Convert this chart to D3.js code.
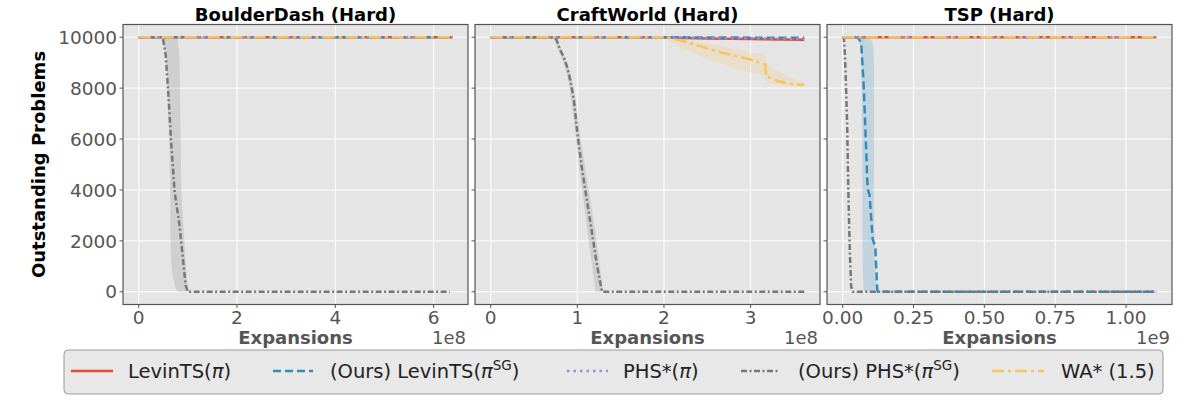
<!DOCTYPE html>
<html><head><meta charset="utf-8">
<script src="https://cdn.jsdelivr.net/npm/d3@7"></script>
<style>
html,body{margin:0;padding:0;background:#fff;}
text{font-family:"DejaVu Sans",sans-serif;}
</style></head>
<body><svg id="chart" width="1200" height="405"></svg>
<script>
// ---------------- DATA ----------------
const panelTitles = ["BoulderDash (Hard)", "CraftWorld (Hard)", "TSP (Hard)"];
const seriesNames = ["LevinTS(π)", "(Ours) LevinTS(πSG)", "PHS*(π)", "(Ours) PHS*(πSG)", "WA* (1.5)"];
const yTicks = [0, 2000, 4000, 6000, 8000, 10000];
const xTicksBD = [0, 2e8, 4e8, 6e8];
const xTicksCW = [0, 1e8, 2e8, 3e8];
const xTicksTSP = [0, 0.25e9, 0.5e9, 0.75e9, 1.0e9];
const xMaxBD = 6.38e8, xMaxCW = 3.62e8, xMaxTSP = 1.107e9;

const bdLevin   = [[0,10000],[6.38e8,10000]];
const bdLevinSG = [[0,10000],[6.38e8,10000]];
const bdPHS     = [[0,10000],[6.38e8,10000]];
const bdPHSSG   = [[0,10000],[0.49e8,10000],[0.55e8,9300],[0.60e8,7870],[0.66e8,5900],[0.73e8,3940],[0.83e8,2620],[0.90e8,1310],[0.955e8,260],[1.0e8,0],[6.33e8,0]];
const bdWA      = [[0,10000],[6.38e8,10000]];
const bdPHSSGBand = [[10000,0.49e8,0.78e8],[9200,0.56e8,0.83e8],[6500,0.61e8,0.85e8],[5200,0.63e8,0.86e8],[3900,0.64e8,0.87e8],[2000,0.65e8,0.93e8],[1300,0.66e8,0.95e8],[260,0.73e8,1.0e8],[0,0.80e8,1.02e8]];

const cwLevin   = [[0,10000],[2.0e8,10000],[2.1e8,9980],[2.5e8,9950],[3.0e8,9930],[3.62e8,9900]];
const cwLevinSG = [[0,10000],[2.0e8,10000],[2.5e8,9990],[3.62e8,9975]];
const cwPHS     = [[0,10000],[2.0e8,10000],[2.5e8,9970],[3.62e8,9940]];
const cwPHSSG   = [[0,10000],[0.73e8,10000],[0.76e8,9900],[0.80e8,9520],[0.84e8,9250],[0.88e8,8860],[0.92e8,8300],[0.96e8,7550],[1.0e8,6240],[1.05e8,4920],[1.11e8,3610],[1.17e8,2300],[1.23e8,980],[1.285e8,0],[3.62e8,0]];
const cwWA      = [[0,10000],[2.0e8,10000],[2.05e8,9980],[2.23e8,9840],[2.61e8,9450],[3.0e8,9120],[3.17e8,8920],[3.18e8,8470],[3.32e8,8270],[3.50e8,8140],[3.62e8,8130]];
const cwPHSSGBand = [[10000,0.72e8,0.75e8],[9500,0.78e8,0.82e8],[8800,0.86e8,0.90e8],[7500,0.93e8,0.98e8],[6200,0.98e8,1.03e8],[4900,1.02e8,1.09e8],[3600,1.07e8,1.15e8],[2300,1.12e8,1.21e8],[1000,1.17e8,1.26e8],[0,1.21e8,1.30e8]];
const cwWABand = [[2.0e8,10000,10000],[2.1e8,9750,10000],[2.34e8,9350,9850],[2.6e8,9050,9700],[3.0e8,8600,9400],[3.15e8,8500,9350],[3.2e8,8200,8950],[3.4e8,8050,8500],[3.62e8,8050,8200]];

const tspLevin   = [[0,10000],[1.107e9,10000]];
const tspLevinSG = [[0,10000],[0.045e9,10000],[0.058e9,9950],[0.066e9,9700],[0.075e9,7900],[0.088e9,4050],[0.095e9,3800],[0.106e9,2050],[0.115e9,1800],[0.122e9,100],[0.124e9,0],[1.107e9,0]];
const tspPHS     = [[0,10000],[1.107e9,10000]];
const tspPHSSG   = [[0,10000],[0.004e9,10000],[0.008e9,9300],[0.012e9,8000],[0.016e9,6500],[0.019e9,4500],[0.022e9,3000],[0.026e9,1300],[0.030e9,200],[0.036e9,0],[1.107e9,0]];
const tspWA      = [[0,10000],[1.107e9,10000]];
const tspLevinSGBand = [[10000,0.045e9,0.085e9],[9900,0.055e9,0.100e9],[9600,0.062e9,0.108e9],[9000,0.066e9,0.110e9],[5000,0.069e9,0.110e9],[2000,0.070e9,0.112e9],[500,0.072e9,0.118e9],[0,0.075e9,0.125e9]];

const colors = ["#E24A33", "#348ABD", "#988ED5", "#777777", "#FBC15E"];
const dashes = [null, "8,4", "2.5,4", "6,2.5,2,2.5", "12,4,3,4"];

const panels = [
  {title: panelTitles[0], left: 123, xmax: xMaxBD, ticks: xTicksBD, scaleExp: 1e8, off: "1e8", fmt: d => d3.format("d")(d),
   series: [bdLevin, bdLevinSG, bdPHS, bdPHSSG, bdWA], hbands: [[3, bdPHSSGBand]], vbands: []},
  {title: panelTitles[1], left: 475, xmax: xMaxCW, ticks: xTicksCW, scaleExp: 1e8, off: "1e8", fmt: d => d3.format("d")(d),
   series: [cwLevin, cwLevinSG, cwPHS, cwPHSSG, cwWA], hbands: [[3, cwPHSSGBand]], vbands: [[4, cwWABand]]},
  {title: panelTitles[2], left: 827, xmax: xMaxTSP, ticks: xTicksTSP, scaleExp: 1e9, off: "1e9", fmt: d => d3.format(".2f")(d),
   series: [tspLevin, tspLevinSG, tspPHS, tspPHSSG, tspWA], hbands: [[1, tspLevinSGBand]], vbands: []}
];

const PW = 345, TOP = 24.5, BOT = 304.5;
const svg = d3.select("#chart");
const y = d3.scaleLinear().domain([-500, 10500]).range([BOT, TOP]);

panels.forEach((p, i) => {
  const x = d3.scaleLinear().domain([-0.05 * p.xmax, 1.05 * p.xmax]).range([p.left, p.left + PW]);
  const g = svg.append("g");
  const cid = "clip" + i;
  svg.append("defs").append("clipPath").attr("id", cid)
    .append("rect").attr("x", p.left).attr("y", TOP).attr("width", PW).attr("height", BOT - TOP);
  g.append("rect").attr("x", p.left).attr("y", TOP).attr("width", PW).attr("height", BOT - TOP).attr("fill", "#E5E5E5");
  g.selectAll(".gy").data(yTicks).join("line")
    .attr("x1", p.left).attr("x2", p.left + PW).attr("y1", d => y(d)).attr("y2", d => y(d))
    .attr("stroke", "#fff").attr("stroke-width", 1);
  g.selectAll(".gx").data(p.ticks).join("line")
    .attr("x1", d => x(d)).attr("x2", d => x(d)).attr("y1", TOP).attr("y2", BOT)
    .attr("stroke", "#fff").attr("stroke-width", 1);
  const plot = g.append("g").attr("clip-path", `url(#${cid})`);
  p.hbands.forEach(([si, band]) => {
    plot.append("path").datum(band)
      .attr("d", d3.area().y(d => y(d[0])).x0(d => x(d[1])).x1(d => x(d[2])).curve(d3.curveMonotoneY))
      .attr("fill", colors[si]).attr("fill-opacity", 0.2);
  });
  p.vbands.forEach(([si, band]) => {
    plot.append("path").datum(band)
      .attr("d", d3.area().x(d => x(d[0])).y0(d => y(d[1])).y1(d => y(d[2])))
      .attr("fill", colors[si]).attr("fill-opacity", 0.2);
  });
  const line = d3.line().x(d => x(d[0])).y(d => y(d[1]));
  p.series.forEach((s, si) => {
    plot.append("path").datum(s).attr("d", line)
      .attr("fill", "none").attr("stroke", colors[si]).attr("stroke-width", 2.5)
      .attr("stroke-dasharray", dashes[si]);
  });
  g.append("rect").attr("x", p.left).attr("y", TOP).attr("width", PW).attr("height", BOT - TOP)
    .attr("fill", "none").attr("stroke", "#555").attr("stroke-width", 1.2);
  g.selectAll(".xt").data(p.ticks).join("line")
    .attr("x1", d => x(d)).attr("x2", d => x(d)).attr("y1", BOT).attr("y2", BOT + 3.5)
    .attr("stroke", "#555").attr("stroke-width", 1);
  g.selectAll(".xl").data(p.ticks).join("text")
    .attr("x", d => x(d)).attr("y", 324).attr("text-anchor", "middle")
    .attr("font-size", 18.5).attr("fill", "#555").text(d => p.fmt(d / p.scaleExp));
  g.append("text").attr("x", p.left + PW - 2).attr("y", 344).attr("text-anchor", "end")
    .attr("font-size", 18).attr("fill", "#555").text(p.off);
  g.append("text").attr("x", p.left + PW / 2).attr("y", 344).attr("text-anchor", "middle")
    .attr("font-size", 18).attr("font-weight", "bold").attr("fill", "#555").text("Expansions");
  g.append("text").attr("x", p.left + PW / 2).attr("y", 21).attr("text-anchor", "middle")
    .attr("font-size", 18).attr("font-weight", "bold").attr("fill", "#000").text(p.title);
  g.selectAll(".yt").data(yTicks).join("line")
    .attr("x1", p.left - 3.5).attr("x2", p.left).attr("y1", d => y(d)).attr("y2", d => y(d))
    .attr("stroke", "#555").attr("stroke-width", 1);
  if (i === 0) {
    g.selectAll(".yl").data(yTicks).join("text")
      .attr("x", p.left - 6).attr("y", d => y(d)).attr("dy", "0.36em").attr("text-anchor", "end")
      .attr("font-size", 18.5).attr("fill", "#555").text(d => d);
  }
});

svg.append("text").attr("transform", "translate(45,164.5) rotate(-90)").attr("text-anchor", "middle")
  .attr("font-size", 18).attr("font-weight", "bold").attr("fill", "#000").text("Outstanding Problems");

const leg = svg.append("g");
leg.append("rect").attr("x", 64).attr("y", 350).attr("width", 1099).attr("height", 44).attr("rx", 4)
  .attr("fill", "#E8E8E8").attr("stroke", "#999").attr("stroke-width", 1);
const legPos = [[71, 113, 128], [273, 313, 330], [567, 608, 623], [741, 779, 798], [992, 1044, 1061]];
const legParts = [
  [["LevinTS(", ""], ["π", "it"], [")", ""]],
  [["(Ours) LevinTS(", ""], ["π", "it"], ["SG", "sup"], [")", "down"]],
  [["PHS*(", ""], ["π", "it"], [")", ""]],
  [["(Ours) PHS*(", ""], ["π", "it"], ["SG", "sup"], [")", "down"]],
  [["WA* (1.5)", ""]]
];
legPos.forEach((pos, k) => {
  leg.append("line").attr("x1", pos[0]).attr("x2", pos[1]).attr("y1", 371).attr("y2", 371)
    .attr("stroke", colors[k]).attr("stroke-width", 2.5).attr("stroke-dasharray", dashes[k]);
  const t = leg.append("text").attr("x", pos[2]).attr("y", 378).attr("font-size", 19.5).attr("fill", "#222")
    .attr("aria-label", seriesNames[k]);
  legParts[k].forEach(([s, kind]) => {
    const ts = t.append("tspan").text(s);
    if (kind === "it") ts.attr("font-style", "italic");
    if (kind === "sup") ts.attr("font-size", 13.5).attr("dy", -8);
    if (kind === "down") ts.attr("dy", 8);
  });
});
</script>
</body></html>
